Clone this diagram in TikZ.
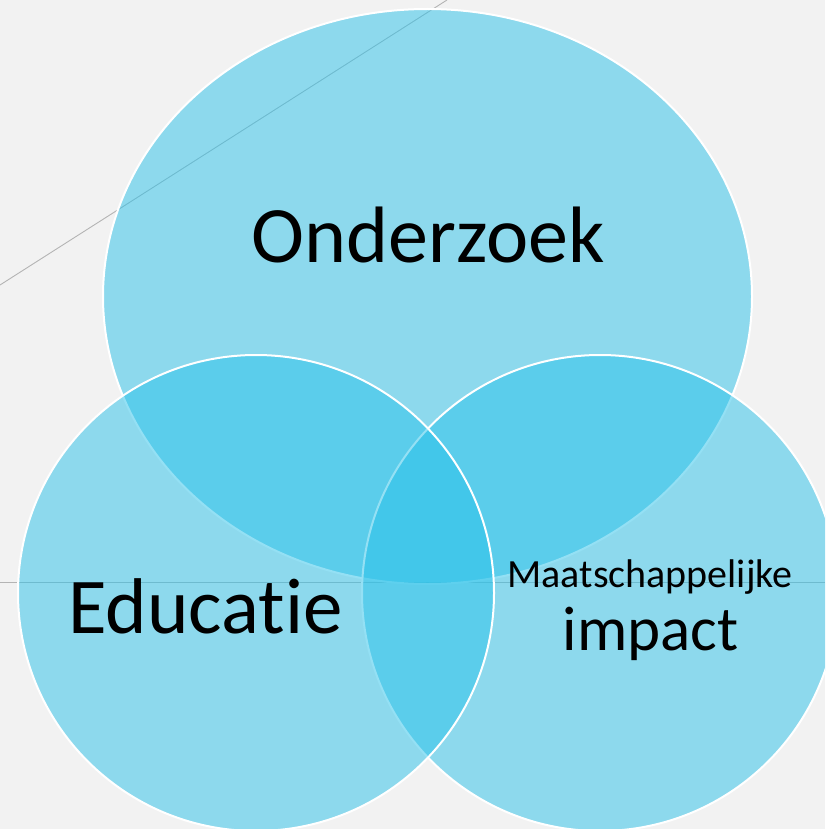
\documentclass[tikz,border=0pt]{standalone}
\usepackage{fontspec}
\setmainfont[Ligatures={NoCommon}]{Carlito}
\definecolor{bgc}{RGB}{242,242,242}
\definecolor{vennblue}{RGB}{42,194,234}
\definecolor{linegray}{RGB}{180,180,180}
\begin{document}
\begin{tikzpicture}[x=1pt,y=-1pt,
  venn/.style={draw=white, line width=2pt, fill=vennblue, fill opacity=0.5},
  guide/.style={draw=linegray, line width=0.9pt},
  lbl/.style={anchor=base, inner sep=0pt, text=black}]
\useasboundingbox (0,0) rectangle (825,829);
\fill[bgc] (0,0) rectangle (825,829);
\clip (0,0) rectangle (825,829);
% guide lines
\coordinate (g1a) at (0,285);
\coordinate (g1b) at (447,0);
\coordinate (g2a) at (0,582);
\coordinate (g2b) at (825,582);
\draw[guide] (g1a) -- (g1b);
\draw[guide] (g2a) -- (g2b);
% shapes
\path[venn] (427.5,296.5) ellipse [x radius=324.5pt, y radius=287.5pt];
\path[venn] (600,593) circle [radius=238pt];
\path[venn] (256,593) circle [radius=238pt];
% labels
\node[lbl, font=\fontsize{80}{96}\selectfont] (onderzoek) at (428,262) {Onderzoek};
\node[lbl, font=\fontsize{79}{95}\selectfont] (educatie) at (205.5,633) {Educatie};
\node[lbl, font=\fontsize{40}{48}\selectfont] (maat) at (650,587) {Maatschappelijke};
\node[lbl, font=\fontsize{63}{76}\selectfont] (impact) at (650.5,650) {impact};
\end{tikzpicture}
\end{document}
